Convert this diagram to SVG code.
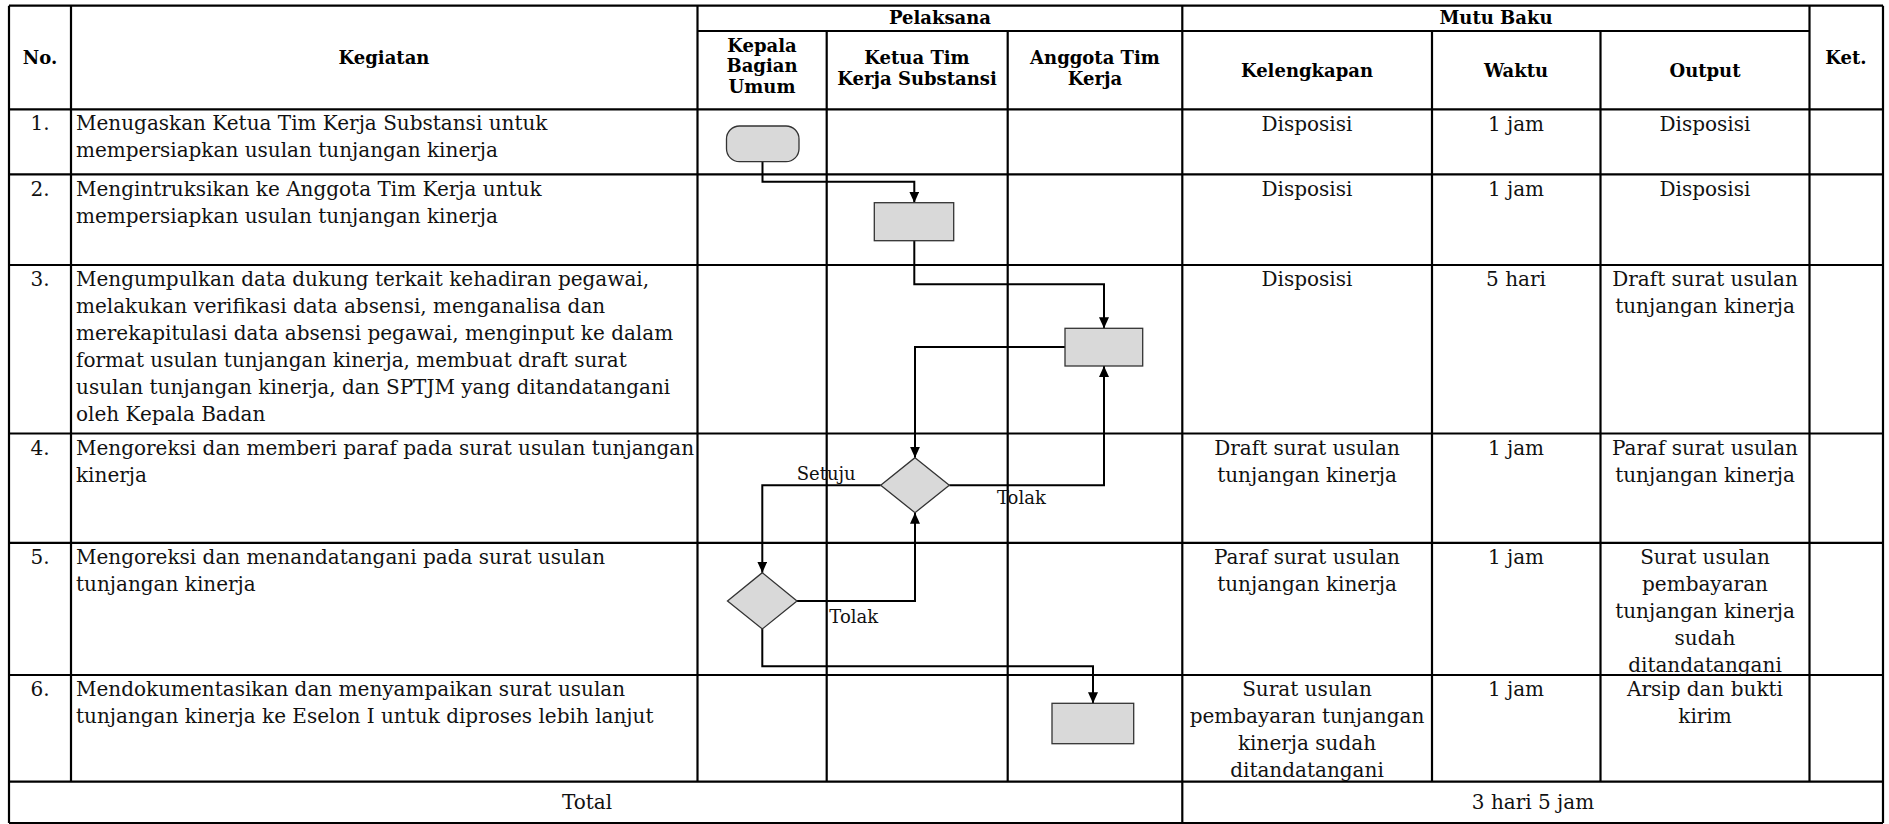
<svg xmlns="http://www.w3.org/2000/svg" width="1889" height="824" viewBox="0 0 1889 824">
<style>
  .grid line { stroke: #000; stroke-width: 2.2; }
  .t { font-family: "DejaVu Serif", "Liberation Serif", serif; font-size: 20px; fill: #111; }
  .c { text-anchor: middle; }
  .h { font-family: "DejaVu Serif", "Liberation Serif", serif; font-size: 18px; font-weight: bold; fill: #000; text-anchor: middle; }
  .lbl { font-family: "DejaVu Serif", "Liberation Serif", serif; font-size: 18px; fill: #111; }
  .shape { fill: #d9d9d9; stroke: #333; stroke-width: 1.3; }
  .conn { fill: none; stroke: #000; stroke-width: 2; marker-end: url(#arr); }
</style>
<defs>
  <marker id="arr" markerUnits="userSpaceOnUse" markerWidth="11" markerHeight="10" viewBox="0 0 11 10" refX="11" refY="5" orient="auto">
    <path d="M0,0 L11,5 L0,10 z" fill="#000"/>
  </marker>
  <clipPath id="clipR5">
    <rect x="1600" y="543" width="209" height="132"/>
  </clipPath>
</defs>
<rect width="1889" height="824" fill="#fff"/>

<g id="table" class="grid">
  <line x1="9" y1="5.7" x2="1883" y2="5.7"/>
  <line x1="697.5" y1="31" x2="1809.5" y2="31"/>
  <line x1="9" y1="109.3" x2="1883" y2="109.3"/>
  <line x1="9" y1="174.3" x2="1883" y2="174.3"/>
  <line x1="9" y1="265" x2="1883" y2="265"/>
  <line x1="9" y1="433.5" x2="1883" y2="433.5"/>
  <line x1="9" y1="542.8" x2="1883" y2="542.8"/>
  <line x1="9" y1="675" x2="1883" y2="675"/>
  <line x1="9" y1="781.7" x2="1883" y2="781.7"/>
  <line x1="9" y1="823" x2="1883" y2="823"/>
  <line x1="9" y1="5.7" x2="9" y2="823"/>
  <line x1="71" y1="5.7" x2="71" y2="781.7"/>
  <line x1="697.5" y1="5.7" x2="697.5" y2="781.7"/>
  <line x1="826.7" y1="31" x2="826.7" y2="781.7"/>
  <line x1="1007.7" y1="31" x2="1007.7" y2="781.7"/>
  <line x1="1182.3" y1="5.7" x2="1182.3" y2="823"/>
  <line x1="1432" y1="31" x2="1432" y2="781.7"/>
  <line x1="1600.5" y1="31" x2="1600.5" y2="781.7"/>
  <line x1="1809.5" y1="5.7" x2="1809.5" y2="781.7"/>
  <line x1="1883" y1="5.7" x2="1883" y2="823"/>
</g>

<g id="header">
  <text class="h" x="40" y="63.5">No.</text>
  <text class="h" x="384" y="64">Kegiatan</text>
  <text class="h" x="940" y="23.5">Pelaksana</text>
  <text class="h" x="1496" y="23.5">Mutu Baku</text>
  <text class="h" x="762" y="51.5">Kepala</text>
  <text class="h" x="762" y="72">Bagian</text>
  <text class="h" x="762" y="92.5">Umum</text>
  <text class="h" x="917" y="64">Ketua Tim</text>
  <text class="h" x="917" y="84.5">Kerja Substansi</text>
  <text class="h" x="1095" y="64">Anggota Tim</text>
  <text class="h" x="1095" y="84.5">Kerja</text>
  <text class="h" x="1307" y="77">Kelengkapan</text>
  <text class="h" x="1516" y="77">Waktu</text>
  <text class="h" x="1705" y="77">Output</text>
  <text class="h" x="1846" y="63.5">Ket.</text>
</g>

<g id="rows">
  <text class="t c" x="40" y="130">1.</text>
  <text class="t" x="76" y="129.5">Menugaskan Ketua Tim Kerja Substansi untuk</text>
  <text class="t" x="76" y="156.5">mempersiapkan usulan tunjangan kinerja</text>
  <text class="t c" x="1307" y="130.5">Disposisi</text>
  <text class="t c" x="1516" y="130.5">1 jam</text>
  <text class="t c" x="1705" y="130.5">Disposisi</text>

  <text class="t c" x="40" y="195.5">2.</text>
  <text class="t" x="76" y="195.5">Mengintruksikan ke Anggota Tim Kerja untuk</text>
  <text class="t" x="76" y="222.5">mempersiapkan usulan tunjangan kinerja</text>
  <text class="t c" x="1307" y="195.5">Disposisi</text>
  <text class="t c" x="1516" y="195.5">1 jam</text>
  <text class="t c" x="1705" y="195.5">Disposisi</text>

  <text class="t c" x="40" y="286">3.</text>
  <text class="t" x="76" y="286">Mengumpulkan data dukung terkait kehadiran pegawai,</text>
  <text class="t" x="76" y="313">melakukan verifikasi data absensi, menganalisa dan</text>
  <text class="t" x="76" y="340">merekapitulasi data absensi pegawai, menginput ke dalam</text>
  <text class="t" x="76" y="367">format usulan tunjangan kinerja, membuat draft surat</text>
  <text class="t" x="76" y="394">usulan tunjangan kinerja, dan SPTJM yang ditandatangani</text>
  <text class="t" x="76" y="421">oleh Kepala Badan</text>
  <text class="t c" x="1307" y="286">Disposisi</text>
  <text class="t c" x="1516" y="286">5 hari</text>
  <text class="t c" x="1705" y="286">Draft surat usulan</text>
  <text class="t c" x="1705" y="313">tunjangan kinerja</text>

  <text class="t c" x="40" y="454.5">4.</text>
  <text class="t" x="76" y="454.5">Mengoreksi dan memberi paraf pada surat usulan tunjangan</text>
  <text class="t" x="76" y="481.5">kinerja</text>
  <text class="t c" x="1307" y="454.5">Draft surat usulan</text>
  <text class="t c" x="1307" y="481.5">tunjangan kinerja</text>
  <text class="t c" x="1516" y="454.5">1 jam</text>
  <text class="t c" x="1705" y="454.5">Paraf surat usulan</text>
  <text class="t c" x="1705" y="481.5">tunjangan kinerja</text>

  <text class="t c" x="40" y="563.5">5.</text>
  <text class="t" x="76" y="563.5">Mengoreksi dan menandatangani pada surat usulan</text>
  <text class="t" x="76" y="590.5">tunjangan kinerja</text>
  <text class="t c" x="1307" y="563.5">Paraf surat usulan</text>
  <text class="t c" x="1307" y="590.5">tunjangan kinerja</text>
  <text class="t c" x="1516" y="563.5">1 jam</text>
  <g clip-path="url(#clipR5)">
    <text class="t c" x="1705" y="563.5">Surat usulan</text>
    <text class="t c" x="1705" y="590.8">pembayaran</text>
    <text class="t c" x="1705" y="618">tunjangan kinerja</text>
    <text class="t c" x="1705" y="645">sudah</text>
    <text class="t c" x="1705" y="672">ditandatangani</text>
  </g>

  <text class="t c" x="40" y="696">6.</text>
  <text class="t" x="76" y="696">Mendokumentasikan dan menyampaikan surat usulan</text>
  <text class="t" x="76" y="723">tunjangan kinerja ke Eselon I untuk diproses lebih lanjut</text>
  <text class="t c" x="1307" y="696">Surat usulan</text>
  <text class="t c" x="1307" y="723">pembayaran tunjangan</text>
  <text class="t c" x="1307" y="750">kinerja sudah</text>
  <text class="t c" x="1307" y="777">ditandatangani</text>
  <text class="t c" x="1516" y="696">1 jam</text>
  <text class="t c" x="1705" y="696">Arsip dan bukti</text>
  <text class="t c" x="1705" y="723">kirim</text>

  <text class="t c" x="587" y="809">Total</text>
  <text class="t c" x="1533" y="809">3 hari 5 jam</text>
</g>

<g id="connectors">
  <path class="conn" d="M762.5,161.7 V181.7 H914.3 V202.7"/>
  <path class="conn" d="M914.3,240.7 V284.3 H1104 V328.3"/>
  <path class="conn" d="M1065,347 H915 V457.7"/>
  <path class="conn" d="M949.3,485.3 H1104 V366"/>
  <path class="conn" d="M880.7,485.3 H762.3 V572.7"/>
  <path class="conn" d="M797,601 H915 V512.7"/>
  <path class="conn" d="M762.3,629 V666.3 H1093 V703.3"/>
  <text class="lbl" x="796.7" y="480">Setuju</text>
  <text class="lbl" x="997" y="504">Tolak</text>
  <text class="lbl" x="829.3" y="622.7">Tolak</text>
</g>

<g id="n1-start">
  <rect class="shape" x="726.5" y="126" width="72.5" height="35.7" rx="13" ry="13"/>
</g>
<g id="n2-ketua-instruksi">
  <rect class="shape" x="874.3" y="202.7" width="79.4" height="38"/>
</g>
<g id="n3-anggota-kumpul">
  <rect class="shape" x="1065" y="328.3" width="77.7" height="37.7"/>
</g>
<g id="n4-ketua-koreksi">
  <polygon class="shape" points="915,457.7 949.3,485.3 915,512.7 880.7,485.3"/>
</g>
<g id="n5-kepala-tandatangan">
  <polygon class="shape" points="762.3,572.7 797,601 762.3,629 727.5,601"/>
</g>
<g id="n6-anggota-dokumentasi">
  <rect class="shape" x="1052" y="703.3" width="81.7" height="40.4"/>
</g>
</svg>
